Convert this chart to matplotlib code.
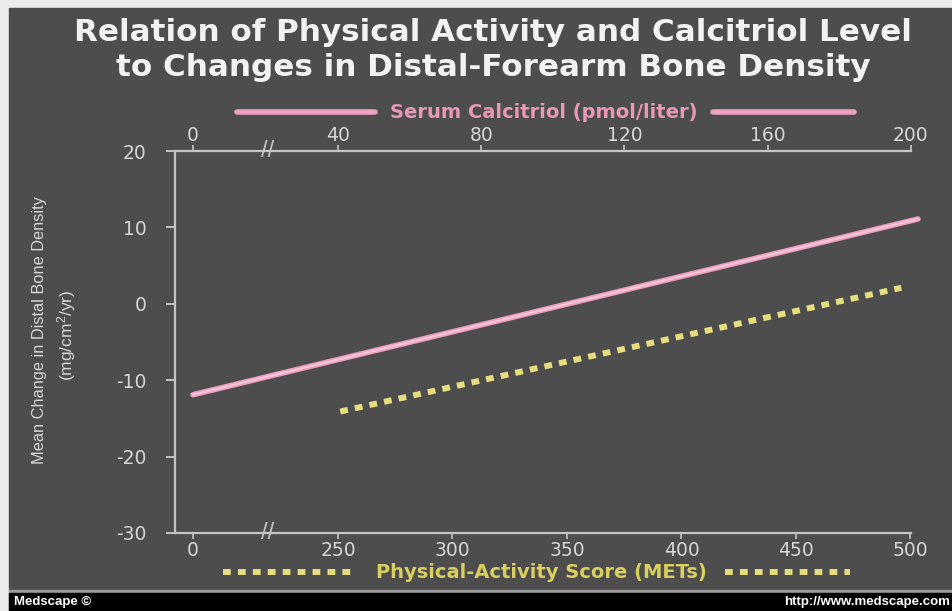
import numpy as np
import matplotlib.pyplot as plt
from matplotlib.lines import Line2D
from matplotlib.patches import Rectangle

# data
calcitriol_x = [0, 202]          # pmol/liter
calcitriol_y = [-11.9, 11.1]
activity_x = [251, 496]          # METs
activity_y = [-14.1, 2.1]
y_ticks = [-30, -20, -10, 0, 10, 20]
met_ticks = [0, 250, 300, 350, 400, 450, 500]
cal_ticks = [0, 40, 80, 120, 160, 200]

plt.rcParams['font.family'] = ['DejaVu Sans']
plt.rcParams['axes.unicode_minus'] = False
plt.rcParams['mathtext.fontset'] = 'custom'
plt.rcParams['mathtext.rm'] = 'Liberation Sans'
plt.rcParams['mathtext.default'] = 'rm'

BG = '#4d4d4d'
AXC = '#c4c4c4'
TXT = '#d6d6d6'
PINK = '#eea0c2'
PINK_HI = '#f8c8da'
YEL = '#e6de7e'

# broken axes: a short gap between 0 and the first real tick
GAP = 145.0
def met_fwd(x):
    x = np.asarray(x, float)
    return np.where(x < 250, x * GAP / 250, GAP + (x - 250) * 2.29)

def met_inv(p):
    p = np.asarray(p, float)
    return np.where(p < GAP, p * 250 / GAP, 250 + (p - GAP) / 2.29)

def cal_fwd(c):
    c = np.asarray(c, float)
    return np.where(c < 40, c * GAP / 40, GAP + (c - 40) * 3.58)

def cal_inv(p):
    p = np.asarray(p, float)
    return np.where(p < GAP, p * 40 / GAP, 40 + (p - GAP) / 3.58)

W, H = 953, 611
fig = plt.figure(figsize=(W / 100, H / 100), dpi=100, facecolor='#ebebeb')

# panel, separator, footer bar
fig.patches.append(Rectangle((9 / W, 21 / H), 1, (H - 29) / H, transform=fig.transFigure, color=BG, zorder=-3))
fig.patches.append(Rectangle((9 / W, 0), 1, 21 / H, transform=fig.transFigure, color='#9a9a9a', zorder=-3))
fig.patches.append(Rectangle((9 / W, 0), 1, 18 / H, transform=fig.transFigure, color='black', zorder=-2))

ax = fig.add_axes([175 / W, 78 / H, 736 / W, 382 / H])
ax.set_facecolor('none')
ax.set_xscale('function', functions=(met_fwd, met_inv))
ax.set_xlim(float(met_inv(-18)), float(met_inv(718)))
ax.set_ylim(-30, 20)
ax.set_xticks(met_ticks)
ax.set_yticks(y_ticks)

for s in ['left', 'top', 'bottom']:
    ax.spines[s].set_color(AXC)
    ax.spines[s].set_linewidth(1.6)
ax.spines['right'].set_visible(False)

ax.tick_params(axis='y', direction='out', length=6.5, width=1.4, color=AXC,
               labelcolor=TXT, labelsize=13.5, pad=14)
ax.tick_params(axis='x', direction='out', length=4, width=1.2, color=AXC,
               labelcolor=TXT, labelsize=13.5, pad=1.5)

ax2 = ax.twiny()
ax2.set_xscale('function', functions=(cal_fwd, cal_inv))
ax2.set_xlim(float(cal_inv(-18)), float(cal_inv(718)))
ax2.set_xticks(cal_ticks)
for s in ax2.spines.values():
    s.set_visible(False)
ax2.tick_params(axis='x', direction='out', length=4, width=1.2, color=AXC,
                labelcolor=TXT, labelsize=13.5, pad=0.5)

# break marks
for yy in (0, 1):
    ax.text(float(met_inv(75)), yy, '//', transform=ax.get_xaxis_transform(),
            ha='center', va='center', color=AXC, fontsize=17, family='Liberation Sans')

# lines
ax2.plot(calcitriol_x, calcitriol_y, color=PINK, lw=4, solid_capstyle='round', clip_on=False)
ax2.plot(calcitriol_x, calcitriol_y, color=PINK_HI, lw=1.5, solid_capstyle='round', clip_on=False)
ax.plot(activity_x, activity_y, color=YEL, lw=4.3, linestyle=(0, (1.3, 1.2)),
        dash_capstyle='butt', clip_on=False)

# title
fig.text(493 / W, 1 - 50 / H,
         'Relation of Physical Activity and Calcitriol Level\nto Changes in Distal-Forearm Bone Density',
         ha='center', va='center', color='#f2f2f2', fontsize=22.3, fontweight='bold', linespacing=1.25)

# axis labels drawn as line-text-line keys
ly = 1 - 112 / H
fig.add_artist(Line2D([237 / W, 375 / W], [ly, ly], color=PINK, lw=4, solid_capstyle='round'))
fig.add_artist(Line2D([713 / W, 854 / W], [ly, ly], color=PINK, lw=4, solid_capstyle='round'))
fig.text(544 / W, ly, 'Serum Calcitriol (pmol/liter)', ha='center', va='center',
         color='#e896ba', fontsize=14, fontweight='bold')

by = 1 - 572 / H
fig.add_artist(Line2D([223 / W, 352 / W], [by, by], color=YEL, lw=4.3, linestyle=(0, (1.3, 1.2)),
                      dash_capstyle='butt'))
fig.add_artist(Line2D([725 / W, 850 / W], [by, by], color=YEL, lw=4.3, linestyle=(0, (1.3, 1.2)),
                      dash_capstyle='butt'))
fig.text(541 / W, by, 'Physical-Activity Score (METs)', ha='center', va='center',
         color='#d9cf5e', fontsize=14, fontweight='bold')

# y label
fig.text(40 / W, 1 - 330 / H, 'Mean Change in Distal Bone Density', rotation=90,
         ha='center', va='center', color=TXT, fontsize=11.8, family='Liberation Sans')
fig.text(67 / W, 1 - 335 / H, '(mg/cm$^{2}$/yr)', rotation=90,
         ha='center', va='center', color=TXT, fontsize=12.5, family='Liberation Sans')

# footer
fig.text(14 / W, 9 / H, 'Medscape \u00a9', ha='left', va='center', color='white',
         fontsize=9.5, fontweight='bold', family='Liberation Sans')
fig.text(950 / W, 9 / H, 'http://www.medscape.com', ha='right', va='center', color='white',
         fontsize=9.5, fontweight='bold', family='Liberation Sans')

fig.savefig('out.png', dpi=100, facecolor=fig.get_facecolor())
